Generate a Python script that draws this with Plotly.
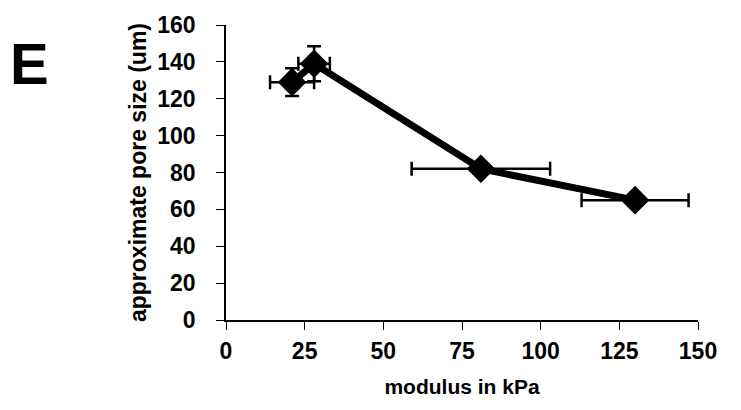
import plotly.graph_objects as go

modulus_kpa = [21, 28, 81, 130]
pore_size_um = [129, 139, 82, 65]
modulus_err = [7, 5, 22, 17]
pore_err = [7.5, 9.5, 3, 3]

x_ticks = [0, 25, 50, 75, 100, 125, 150]
y_ticks = [0, 20, 40, 60, 80, 100, 120, 140, 160]

FONT = "Arial, 'Liberation Sans', sans-serif"

fig = go.Figure()
fig.add_trace(go.Scatter(
    x=modulus_kpa, y=pore_size_um,
    mode="lines+markers",
    line=dict(color="black", width=7),
    marker=dict(symbol="diamond", size=22, color="black"),
    error_x=dict(type="data", array=modulus_err, color="black", thickness=2.5, width=7),
    error_y=dict(type="data", array=pore_err, color="black", thickness=2.5, width=7),
    showlegend=False,
))

fig.update_layout(
    width=741, height=410,
    margin=dict(l=226, r=43, t=25, b=90),
    paper_bgcolor="white", plot_bgcolor="white",
    font=dict(family=FONT, color="black"),
    xaxis=dict(
        range=[0, 150], tickvals=x_ticks, ticks="outside", ticklen=8, tickwidth=1,
        tickcolor="black", showline=True, linecolor="black", linewidth=1.5,
        showgrid=False, zeroline=False, ticklabelstandoff=2,
        tickfont=dict(size=23, family=FONT, weight="bold"),
        title=dict(text="modulus in kPa", font=dict(size=21, weight="bold"), standoff=16),
    ),
    yaxis=dict(
        range=[0, 160], tickvals=y_ticks, ticks="outside", ticklen=8, tickwidth=1,
        tickcolor="black", showline=True, linecolor="black", linewidth=1.5,
        showgrid=False, zeroline=False, ticklabelstandoff=16,
        tickfont=dict(size=23, family=FONT, weight="bold"),
        title=dict(text="approximate pore size (um)", font=dict(size=23, weight="bold"), standoff=4),
    ),
)

fig.add_annotation(
    text="E", xref="paper", yref="paper", x=-0.462, y=0.868,
    xanchor="left", yanchor="middle", showarrow=False,
    font=dict(size=58, family=FONT, weight="bold", color="black"),
)

fig.write_html("out.html")
